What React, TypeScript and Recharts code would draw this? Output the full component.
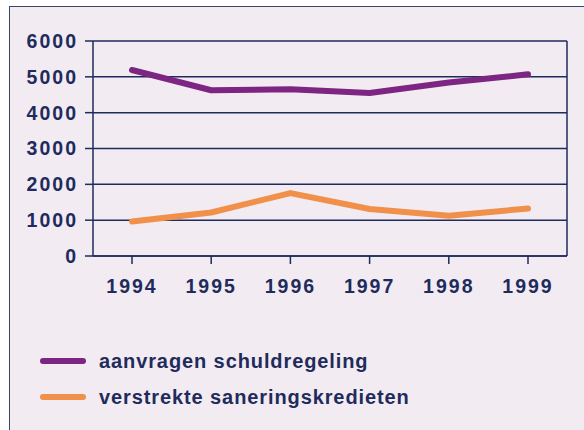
import React from 'react';
import { LineChart, Line, XAxis, YAxis, CartesianGrid } from 'recharts';

const years = ['1994', '1995', '1996', '1997', '1998', '1999'];
const schuldregeling = [5190, 4625, 4655, 4550, 4840, 5070];
const saneringskredieten = [965, 1215, 1755, 1310, 1125, 1325];
const yTicks = [0, 1000, 2000, 3000, 4000, 5000, 6000];

const series = [
  { key: 'schuld', label: 'aanvragen schuldregeling', color: '#7d2582' },
  { key: 'sanering', label: 'verstrekte saneringskredieten', color: '#f0904a' },
];

const data = years.map((year, i) => ({
  year,
  schuld: schuldregeling[i],
  sanering: saneringskredieten[i],
}));

const navy = '#1f2b5c';
const bg = '#f2ebf2';
const font = '"Liberation Sans", Arial, sans-serif';
const tickStyle = { fill: navy, fontSize: 19.5, fontWeight: 700, letterSpacing: 2, fontFamily: font };

export default function App() {
  return (
    <div style={{ position: 'fixed', left: 0, top: 0, width: 584, height: 430, background: '#fff', overflow: 'hidden', fontFamily: font }}>
      <div
        style={{
          position: 'absolute',
          left: 9,
          top: 6,
          width: 620,
          height: 480,
          border: '1.5px solid #3b4670',
          background: bg,
        }}
      />
      <div style={{ position: 'absolute', left: 0, top: 0 }}>
        <LineChart width={584} height={430} data={data} margin={{ top: 41, right: 17, left: 0, bottom: 134 }}>
          <CartesianGrid
            stroke={navy}
            strokeWidth={1.5}
            verticalCoordinatesGenerator={({ offset }: any) => [offset.left + offset.width]}
          />
          <XAxis
            dataKey="year"
            height={40}
            padding={{ left: 39, right: 39 }}
            axisLine={{ stroke: navy, strokeWidth: 1.5 }}
            tickLine={{ stroke: navy, strokeWidth: 1.5 }}
            tickSize={8}
            tickMargin={15}
            tick={tickStyle}
          />
          <YAxis
            width={93}
            domain={[0, 6000]}
            ticks={yTicks}
            interval={0}
            axisLine={{ stroke: navy, strokeWidth: 1.5 }}
            tickLine={{ stroke: navy, strokeWidth: 1.5 }}
            tickSize={8}
            tickMargin={7}
            tick={tickStyle}
          />
          {series.map((s) => (
            <Line
              key={s.key}
              dataKey={s.key}
              stroke={s.color}
              strokeWidth={6}
              strokeLinecap="round"
              strokeLinejoin="round"
              dot={false}
              activeDot={false}
              isAnimationActive={false}
            />
          ))}
        </LineChart>
      </div>
      {series.map((s, i) => (
        <div
          key={s.key}
          style={{
            position: 'absolute',
            left: 40,
            top: 349 + i * 36,
            height: 24,
            display: 'flex',
            alignItems: 'center',
          }}
        >
          <div style={{ width: 46, height: 6, borderRadius: 3, background: s.color }} />
          <span
            style={{
              marginLeft: 13,
              color: navy,
              fontSize: 20,
              fontWeight: 700,
              letterSpacing: 0.9,
              whiteSpace: 'nowrap',
            }}
          >
            {s.label}
          </span>
        </div>
      ))}
    </div>
  );
}
